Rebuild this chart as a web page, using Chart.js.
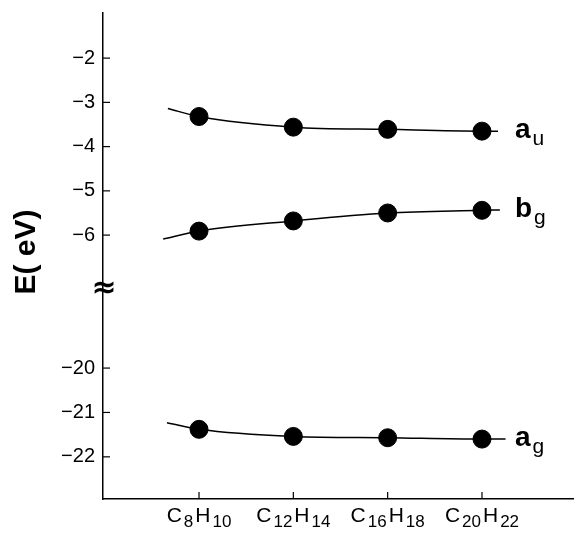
<!DOCTYPE html>
<html>
<head>
<meta charset="utf-8">
<script src="https://cdn.jsdelivr.net/npm/chart.js@4/dist/chart.umd.min.js"></script>
<style>
html, body { margin: 0; padding: 0; background: #fff; }
#wrap { width: 574px; height: 535px; }
</style>
</head>
<body>
<div id="wrap"><canvas id="c"></canvas></div>
<script>
// molecules on the x axis (digits become subscripts)
const categories = ['C8H10', 'C12H14', 'C16H18', 'C20H22'];
const catPos = [1, 2, 3, 4];

// orbital energies (eV)
const auValues = [-3.32, -3.56, -3.61, -3.65];
const bgValues = [-5.91, -5.68, -5.50, -5.44];
const agValues = [-21.38, -21.54, -21.57, -21.60];

// hand-drawn fit curves
const auCurveX = [0.67, 1, 2, 3, 4, 4.17];
const auCurveY = [-3.14, -3.32, -3.56, -3.61, -3.65, -3.65];
const bgCurveX = [0.62, 1, 2, 3, 4, 4.19];
const bgCurveY = [-6.09, -5.91, -5.68, -5.50, -5.44, -5.43];
const agCurveX = [0.66, 1, 2, 3, 4, 4.25];
const agCurveY = [-21.23, -21.38, -21.54, -21.57, -21.60, -21.60];

const seriesNames = [['a', 'u'], ['b', 'g'], ['a', 'g']];
const upperTicks = [-2, -3, -4, -5, -6];
const lowerTicks = [-20, -21, -22];

const zip = (xs, ys) => xs.map((x, i) => ({ x: x, y: ys[i] }));

function curve(xs, ys, axis) {
    return {
        type: 'line',
        data: zip(xs, ys),
        yAxisID: axis,
        borderColor: '#000',
        borderWidth: 1.5,
        pointRadius: 0,
        cubicInterpolationMode: 'monotone',
        fill: false
    };
}
function dots(ys, axis) {
    return {
        type: 'scatter',
        data: zip(catPos, ys),
        yAxisID: axis,
        backgroundColor: '#000',
        borderColor: '#000',
        pointRadius: 9,
        showLine: false
    };
}

// no extra label padding around the plot
function noPad(s) {
    s.paddingTop = 0;
    s.paddingBottom = 0;
    s.paddingLeft = 0;
    s.paddingRight = 0;
}

const decor = {
    id: 'decor',
    afterDraw(chart) {
        const ctx = chart.ctx;
        const xs = chart.scales.x, yu = chart.scales.yTop, yl = chart.scales.y;
        ctx.save();
        ctx.strokeStyle = '#000';
        ctx.lineWidth = 1.2;
        // inward tick marks
        [yu, yl].forEach(s => {
            s.ticks.forEach(t => {
                const py = s.getPixelForValue(t.value);
                ctx.beginPath();
                ctx.moveTo(s.right, py);
                ctx.lineTo(s.right + 7, py);
                ctx.stroke();
            });
        });
        catPos.forEach(v => {
            const px = xs.getPixelForValue(v);
            ctx.beginPath();
            ctx.moveTo(px, xs.top);
            ctx.lineTo(px, xs.top - 7);
            ctx.stroke();
        });

        // x labels with subscripts
        ctx.fillStyle = '#000';
        ctx.textBaseline = 'alphabetic';
        const big = '21px "Liberation Sans", Arial, sans-serif';
        const small = '17px "Liberation Sans", Arial, sans-serif';
        categories.forEach((lab, i) => {
            const parts = lab.match(/[A-Z]+|\d+/g);
            let w = 0;
            parts.forEach(p => {
                ctx.font = /\d/.test(p) ? small : big;
                w += ctx.measureText(p).width + 2;
            });
            w -= 2;
            let px = xs.getPixelForValue(catPos[i]) - w / 2;
            const base = xs.top + 23;
            parts.forEach(p => {
                const sub = /\d/.test(p);
                ctx.font = sub ? small : big;
                ctx.fillText(p, px, sub ? base + 5 : base);
                px += ctx.measureText(p).width + 2;
            });
        });

        // y title
        ctx.save();
        ctx.translate(27, 252);
        ctx.rotate(-Math.PI / 2);
        ctx.font = 'bold 30px "Liberation Sans", Arial, sans-serif';
        ctx.textAlign = 'center';
        ctx.textBaseline = 'middle';
        ctx.fillText('E( eV)', 0, 0);
        ctx.restore();

        // axis break
        ctx.font = 'bold 30px "DejaVu Sans", sans-serif';
        ctx.textAlign = 'center';
        ctx.textBaseline = 'middle';
        ctx.fillText('\u2248', yu.right + 1, yu.bottom - 1);

        // series labels
        const lastX = xs.getPixelForValue(catPos[catPos.length - 1]) + 33;
        const lastY = [yu.getPixelForValue(auValues[3]), yu.getPixelForValue(bgValues[3]), yl.getPixelForValue(agValues[3])];
        ctx.textAlign = 'left';
        ctx.textBaseline = 'alphabetic';
        seriesNames.forEach((n, i) => {
            ctx.font = 'bold 28px "Liberation Sans", Arial, sans-serif';
            ctx.fillText(n[0], lastX, lastY[i] + 7);
            const w = ctx.measureText(n[0]).width;
            ctx.font = '21px "Liberation Sans", Arial, sans-serif';
            ctx.fillText(n[1], lastX + w + 2, lastY[i] + 14);
        });
        ctx.restore();
    }
};

const tickFont = { family: '"Liberation Sans", Arial, sans-serif', size: 20 };
const minus = v => String(v).replace('-', '\u2212');

new Chart(document.getElementById('c'), {
    type: 'scatter',
    data: {
        datasets: [
            curve(auCurveX, auCurveY, 'yTop'),
            curve(bgCurveX, bgCurveY, 'yTop'),
            curve(agCurveX, agCurveY, 'y'),
            dots(auValues, 'yTop'),
            dots(bgValues, 'yTop'),
            dots(agValues, 'y')
        ]
    },
    options: {
        responsive: true,
        maintainAspectRatio: false,
        animation: false,
        layout: { autoPadding: false, padding: { top: 13, right: 1, left: 0, bottom: 0 } },
        plugins: { legend: { display: false }, tooltip: { enabled: false } },
        scales: {
            x: {
                type: 'linear',
                min: -0.018,
                max: 4.965,
                grid: { display: false, drawTicks: false },
                border: { color: '#000', width: 1.5 },
                ticks: { display: false },
                afterFit: s => { s.height = 36; noPad(s); }
            },
            // lower part (listed first: sits at the bottom of the stack)
            y: {
                type: 'linear',
                position: 'left',
                stack: 'e',
                stackWeight: 4.71,
                min: -22.95,
                max: -18.24,
                grid: { display: false, drawTicks: false },
                border: { color: '#000', width: 1.5 },
                ticks: { color: '#000', font: tickFont, padding: 8, callback: minus },
                afterBuildTicks: s => { s.ticks = lowerTicks.map(v => ({ value: v })); },
                afterFit: s => { s.width = 103; noPad(s); }
            },
            yTop: {
                type: 'linear',
                position: 'left',
                stack: 'e',
                stackWeight: 6.24,
                min: -7.24,
                max: -0.98,
                grid: { display: false, drawTicks: false },
                border: { color: '#000', width: 1.5 },
                ticks: { color: '#000', font: tickFont, padding: 8, callback: minus },
                afterBuildTicks: s => { s.ticks = upperTicks.map(v => ({ value: v })); },
                afterFit: s => { s.width = 103; noPad(s); }
            }
        }
    },
    plugins: [decor]
});
</script>
</body>
</html>
